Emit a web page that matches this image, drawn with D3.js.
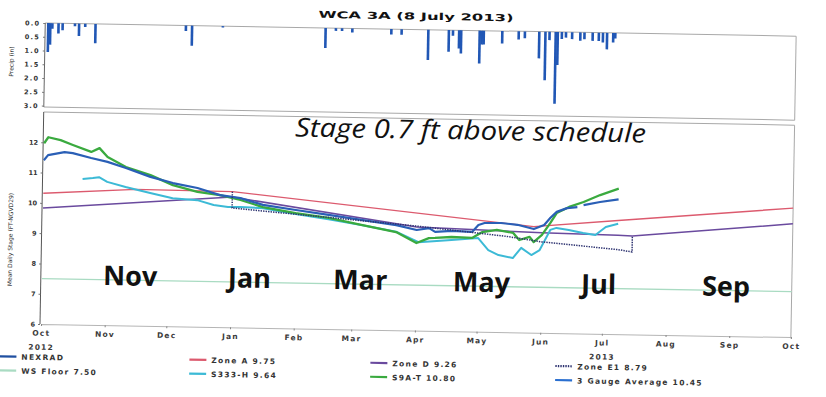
<!DOCTYPE html>
<html><head><meta charset="utf-8">
<script src="https://cdn.jsdelivr.net/npm/d3@7"></script>
<style>html,body{margin:0;padding:0;background:#fff;}svg{display:block;}</style>
</head><body>
<svg id="chart" width="826" height="397"></svg>
<script>
// ---- data -------------------------------------------------------------
const titleText = "WCA 3A (8 July 2013)";
const headline = "Stage 0.7 ft above schedule";

const monthTickLabels = ["Oct","Nov","Dec","Jan","Feb","Mar","Apr","May","Jun","Jul","Aug","Sep","Oct"];
const yearTickLabels  = ["2012","","","","","","","","","2013","","",""];
const stageTicks  = [6,7,8,9,10,11,12];
const precipTicks = [0,0.5,1,1.5,2,2.5,3];

// daily NEXRAD rainfall (inches)
const nexradPrecip = [
  ["2012-10-02",1.05],["2012-10-03",0.78],["2012-10-04",0.2],["2012-10-07",0.37],["2012-10-09",0.25],
  ["2012-10-15",0.1],["2012-10-17",0.45],["2012-10-20",0.12],["2012-10-25",0.7],
  ["2012-12-08",0.2],["2012-12-11",0.73],["2012-12-26",0.05],
  ["2013-02-14",0.73],["2013-02-19",0.1],["2013-02-22",0.1],["2013-02-27",0.15],
  ["2013-03-18",0.2],["2013-03-23",0.2],
  ["2013-04-05",1.1],["2013-04-15",0.79],["2013-04-17",0.2],["2013-04-20",0.66],["2013-04-21",0.84],
  ["2013-04-30",1.19],["2013-05-01",0.5],["2013-05-02",0.5],["2013-05-11",0.45],["2013-05-19",0.3],["2013-05-22",0.25],
  ["2013-05-29",0.97],["2013-06-01",1.76],["2013-06-03",0.3],["2013-06-06",2.61],["2013-06-07",1.2],
  ["2013-06-09",0.25],["2013-06-11",0.2],["2013-06-14",0.25],["2013-06-18",0.3],["2013-06-20",0.25],
  ["2013-06-24",0.3],["2013-06-27",0.3],["2013-06-29",0.35],["2013-07-01",0.6],["2013-07-04",0.35],["2013-07-05",0.2]
];

// mean daily stage, ft NGVD29
const gaugeAverage = [
  ["2012-10-01",11.41],["2012-10-03",11.58],["2012-10-11",11.69],["2012-10-15",11.66],["2012-10-24",11.51],
  ["2012-11-01",11.39],["2012-11-10",11.2],["2012-11-22",10.92],["2012-12-03",10.73],["2012-12-15",10.58],
  ["2012-12-26",10.36],["2013-01-05",10.27],["2013-01-16",10.06],["2013-02-01",9.91],["2013-02-17",9.77],
  ["2013-03-05",9.62],["2013-03-22",9.47],["2013-04-01",9.32],["2013-04-07",9.39],["2013-04-10",9.27],
  ["2013-04-18",9.31],["2013-04-28",9.29],["2013-05-01",9.52],["2013-05-04",9.59],["2013-05-12",9.6],
  ["2013-05-20",9.55],["2013-05-28",9.42],["2013-06-02",9.56],["2013-06-05",9.8],["2013-06-08",10.0],
  ["2013-06-13",10.13],["2013-06-18",10.17],["2013-06-19",null],["2013-06-21",10.24],["2013-06-29",10.35],
  ["2013-07-08",10.45]
];
const s9aT = [
  ["2012-10-01",11.97],["2012-10-03",12.17],["2012-10-09",12.08],["2012-10-15",11.93],["2012-10-24",11.71],
  ["2012-10-28",11.84],["2012-11-01",11.55],["2012-11-10",11.23],["2012-11-22",10.98],["2012-12-03",10.66],
  ["2012-12-15",10.45],["2012-12-26",10.36],["2013-01-05",10.21],["2013-01-16",9.99],["2013-02-01",9.81],
  ["2013-02-17",9.67],["2013-03-05",9.46],["2013-03-22",9.24],["2013-04-01",8.89],["2013-04-07",9.06],
  ["2013-04-10",9.07],["2013-04-18",9.11],["2013-04-28",9.09],["2013-05-03",9.29],["2013-05-10",9.37],
  ["2013-05-18",9.28],["2013-05-21",9.05],["2013-05-26",9.16],["2013-05-28",8.99],["2013-06-01",9.23],
  ["2013-06-05",9.63],["2013-06-08",9.96],["2013-06-14",10.17],["2013-06-21",10.34],["2013-06-29",10.58],
  ["2013-07-08",10.80]
];
const s333H = [
  ["2012-10-20",10.81],["2012-10-25",10.85],["2012-10-28",10.88],["2012-11-01",10.73],["2012-11-10",10.57],
  ["2012-11-22",10.39],["2012-12-03",10.23],["2012-12-15",10.18],["2012-12-23",10.03],["2012-12-30",9.97],
  ["2013-01-05",9.98],["2013-01-16",9.95],["2013-02-01",9.78],["2013-02-17",9.62],["2013-03-05",9.45],
  ["2013-03-22",9.25],["2013-04-02",8.92],["2013-04-18",9.01],["2013-05-01",9.09],["2013-05-06",8.7],
  ["2013-05-11",8.54],["2013-05-18",8.45],["2013-05-22",8.79],["2013-05-27",8.56],["2013-05-31",8.73],
  ["2013-06-02",9.0],["2013-06-05",9.4],["2013-06-08",9.47],["2013-06-14",9.41],["2013-06-21",9.32],
  ["2013-06-27",9.26],["2013-07-02",9.53],["2013-07-08",9.64]
];

// regulation schedule lines
const zoneA = [["2012-10-01",10.32],["2012-11-15",10.5],["2013-01-01",10.48],["2013-05-28",9.5],["2013-07-08",9.75],["2013-10-01",10.26]];
const zoneD = [["2012-10-01",9.83],["2013-01-01",10.3],["2013-04-01",9.42],["2013-06-01",9.3],["2013-07-08",9.26],["2013-07-15",9.25],["2013-10-01",9.74]];
const zoneE1 = [["2013-01-01",10.48],["2013-01-01",9.94],["2013-04-01",9.45],["2013-05-15",9.16],["2013-06-01",9.0],["2013-07-08",8.79],["2013-07-15",8.72],["2013-07-15",9.25]];
const wsFloor = [["2012-10-01",7.5],["2013-10-01",7.5]];

const legendLabels = ["NEXRAD","Zone A 9.75","Zone D 9.26","Zone E1 8.79","WS Floor 7.50","S333-H 9.64","S9A-T 10.80","3 Gauge Average 10.45"];

const monthNotes = [["Nov","2012-11-13"],["Jan","2013-01-10"],["Mar","2013-03-05"],["May","2013-05-03"],["Jul","2013-06-29"],["Sep","2013-08-30"]];

// ---- drawing ----------------------------------------------------------
const parse = d3.timeParse("%Y-%m-%d");
const svg = d3.select("#chart");
svg.append("rect").attr("width",826).attr("height",397).attr("fill","#fff");

// the whole sheet sits at a slight tilt
const g = svg.append("g").attr("transform","rotate(1,40,324)");

const x = d3.scaleTime().domain([parse("2012-10-01"), parse("2013-10-01")]).range([41, 791]);
const yS = d3.scaleLinear().domain([6, 13]).range([324, 112]);
const yP = d3.scaleLinear().domain([0, 3.05]).range([23, 107]);

const tickFont = "DejaVu Sans, Verdana, sans-serif";

// title
g.append("text").attr("x",313).attr("y",13).attr("font-family",tickFont)
  .attr("font-weight","bold").attr("font-size",9.5).attr("fill","#111")
  .attr("textLength",195).attr("lengthAdjust","spacingAndGlyphs").text(titleText);

// precip panel
const frame = "#a8a8a8";
g.append("line").attr("x1",40).attr("x2",791).attr("y1",yP(0)).attr("y2",yP(0)).attr("stroke",frame);
g.append("line").attr("x1",40).attr("x2",791).attr("y1",107).attr("y2",107).attr("stroke",frame);
g.append("line").attr("x1",791).attr("x2",791).attr("y1",yP(0)).attr("y2",107).attr("stroke",frame);
g.append("line").attr("x1",40).attr("x2",40).attr("y1",yP(0)).attr("y2",107).attr("stroke","#666");

g.append("g").selectAll("rect").data(nexradPrecip).join("rect")
  .attr("x",d => x(parse(d[0])) - 1.3).attr("width",2.6)
  .attr("y",yP(0)).attr("height",d => yP(d[1]) - yP(0))
  .attr("fill","#2157b5");

const pAxis = d3.axisLeft(yP).tickValues(precipTicks).tickFormat(d3.format(".1f")).tickSize(2);
const pa = g.append("g").attr("transform","translate(40,0)").call(pAxis);
pa.select(".domain").remove();
pa.selectAll("line").attr("stroke","#777");
pa.selectAll("text").attr("font-family",tickFont).attr("font-weight","bold")
  .attr("font-size",6.5).attr("letter-spacing",1.2).attr("fill","#333");

g.append("text").attr("transform","translate(9,62) rotate(-90)").attr("text-anchor","middle")
  .attr("font-family",tickFont).attr("font-size",6).attr("fill","#333").text("Precip (in)");

// stage panel frame
g.append("line").attr("x1",40).attr("x2",791).attr("y1",112).attr("y2",112).attr("stroke",frame);
g.append("line").attr("x1",791).attr("x2",791).attr("y1",112).attr("y2",324).attr("stroke",frame);

const sAxis = d3.axisLeft(yS).tickValues(stageTicks).tickFormat(d3.format("d")).tickSize(2);
const sa = g.append("g").attr("transform","translate(40,0)").call(sAxis);
sa.select(".domain").attr("stroke","#555").attr("d","M0,112V324");
sa.selectAll("line").attr("stroke","#777");
sa.selectAll("text").attr("font-family",tickFont).attr("font-weight","bold")
  .attr("font-size",6.5).attr("fill","#333");

g.append("text").attr("transform","translate(11,240) rotate(-90)").attr("text-anchor","middle")
  .attr("font-family",tickFont).attr("font-size",6).attr("fill","#333").text("Mean Daily Stage (FT-NGVD29)");

// time axis
const xAxis = d3.axisBottom(x).ticks(d3.timeMonth.every(1)).tickSize(2).tickFormat((d,i) => monthTickLabels[i]);
const xa = g.append("g").attr("transform","translate(0,324)").call(xAxis);
xa.select(".domain").attr("stroke","#b5b5b5");
xa.selectAll("line").attr("stroke","#888");
xa.selectAll("text").attr("font-family",tickFont).attr("font-weight","bold")
  .attr("font-size",7.5).attr("letter-spacing",1.2).attr("fill","#3a3a3a").attr("dy","0.9em");
xa.selectAll(".tick").append("text")
  .attr("y",19).attr("dy","0.9em").attr("fill","#3a3a3a")
  .attr("font-family",tickFont).attr("font-weight","bold")
  .attr("font-size",7.5).attr("letter-spacing",1.2)
  .text((d,i) => yearTickLabels[i]);

// series lines
const line = d3.line().defined(d => d[1] !== null).x(d => x(parse(d[0]))).y(d => yS(d[1]));
const series = [
  {data: wsFloor,      color: "#a9dbc2", width: 1.3, dash: null},
  {data: zoneA,        color: "#dc5a6e", width: 1.4, dash: null},
  {data: zoneD,        color: "#6a4a9e", width: 1.5, dash: null},
  {data: s333H,        color: "#3cbad6", width: 2.0, dash: null},
  {data: s9aT,         color: "#3aaa3f", width: 2.3, dash: null},
  {data: gaugeAverage, color: "#2a5fb6", width: 2.2, dash: null},
  {data: zoneE1,       color: "#2d3270", width: 1.5, dash: "1.4,1.1"}
];
g.append("g").selectAll("path").data(series).join("path")
  .attr("d", s => line(s.data)).attr("fill","none")
  .attr("stroke", s => s.color).attr("stroke-width", s => s.width)
  .attr("stroke-dasharray", s => s.dash).attr("stroke-linejoin","round");

// annotations
g.append("text").attr("x",x(parse("2013-01-31"))).attr("y",132)
  .attr("font-family","Open Sans, sans-serif").attr("font-style","italic")
  .attr("font-size",26).attr("fill","#111")
  .attr("textLength",351).attr("lengthAdjust","spacingAndGlyphs").text(headline);

g.append("g").selectAll("text").data(monthNotes).join("text")
  .attr("x", d => x(parse(d[1]))).attr("y",284).attr("text-anchor","middle")
  .attr("font-family","Open Sans, sans-serif").attr("font-weight","bold")
  .attr("font-size",27).attr("fill","#111").text(d => d[0]);

// legend
const legendColors = ["#1f4fa0","#dc5a6e","#6a4a9e","#2d3270","#a9dbc2","#3cbad6","#3aaa3f","#2a6fd0"];
const legendDash = [null,null,null,"1.4,1.1",null,null,null,null];
const colX = [0,190,371,556], rowY = [357,371];
const leg = g.append("g").selectAll("g").data(legendLabels).join("g")
  .attr("transform",(d,i) => `translate(${colX[i % 4]},${rowY[Math.floor(i / 4)]})`);
leg.append("line").attr("x1",0).attr("x2",17).attr("stroke",(d,i) => legendColors[i])
  .attr("stroke-width",2.2).attr("stroke-dasharray",(d,i) => legendDash[i]);
leg.append("text").attr("x",22).attr("y",3).attr("font-family",tickFont).attr("font-weight","bold")
  .attr("font-size",7.5).attr("letter-spacing",1.3).attr("fill","#333").text(d => d);
</script>
</body></html>
